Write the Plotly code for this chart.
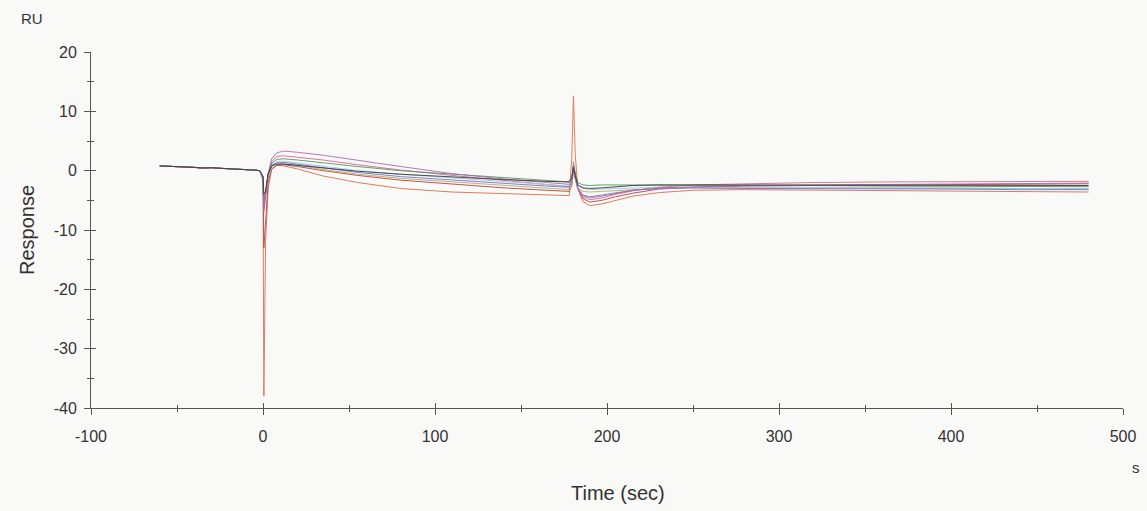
import plotly.graph_objects as go

# Pre-injection baseline shared by every cycle (s, RU)
baseline_t = [-60, -55, -50, -45, -40, -35, -30, -25, -20, -15, -10, -5, -2]
baseline_ru = [0.8, 0.75, 0.75, 0.65, 0.55, 0.45, 0.5, 0.4, 0.35, 0.3, 0.2, 0.1, 0.0]

# Sampling times from injection start onwards (s)
cycle_t = [0, 0.5, 1.5, 3, 5, 8, 12, 20, 35, 55, 80, 110, 140, 165, 178,
           179.5, 180.5, 181.5, 183, 186, 190, 197, 205, 215, 230, 250,
           280, 320, 360, 400, 440, 480]

# Response of each cycle (RU)
orange_ru = [-1.0, -38.0, -12.0, -3.0, 0.2, 0.9, 0.8, 0.3, -0.9, -2.0, -3.0, -3.6,
             -3.9, -4.1, -4.2, 2.0, 12.6, 3.0, -3.0, -5.2, -5.9, -5.6, -5.0, -4.3,
             -3.7, -3.3, -3.2, -3.3, -3.3, -3.4, -3.5, -3.6]
darkred_ru = [-1.0, -13.0, -8.0, -2.0, 0.3, 0.9, 1.0, 0.7, 0.0, -0.8, -1.6, -2.3,
              -2.9, -3.3, -3.5, -2.5, 1.0, -0.5, -3.0, -4.7, -5.3, -5.0, -4.4, -3.8,
              -3.1, -2.8, -2.6, -2.5, -2.4, -2.3, -2.3, -2.2]
purple_ru = [-1.5, -6.0, -4.0, -0.5, 2.0, 3.0, 3.3, 3.1, 2.6, 1.7, 0.7, -0.5,
             -1.4, -2.0, -2.3, -1.5, 0.5, -1.0, -3.0, -4.2, -4.6, -4.3, -3.8, -3.3,
             -2.9, -2.7, -2.5, -2.4, -2.3, -2.3, -2.2, -2.1]
pink_ru = [-1.5, -7.0, -4.5, -1.0, 1.5, 2.4, 2.5, 2.3, 1.8, 1.0, 0.1, -0.8,
           -1.6, -2.3, -2.7, -2.0, 1.5, -0.5, -3.0, -4.4, -4.9, -4.6, -4.0, -3.4,
           -2.8, -2.4, -2.2, -2.0, -1.9, -1.9, -1.8, -1.8]
green_ru = [-1.0, -5.0, -3.5, -0.5, 1.2, 1.9, 2.0, 1.8, 1.3, 0.7, 0.0, -0.6,
            -1.2, -1.7, -1.9, -1.2, 0.8, -0.5, -2.0, -2.4, -2.5, -2.4, -2.4, -2.4,
            -2.4, -2.5, -2.5, -2.5, -2.6, -2.6, -2.6, -2.7]
lightblue_ru = [-1.0, -5.0, -3.0, -0.5, 1.0, 1.5, 1.6, 1.3, 0.7, 0.0, -0.6, -1.2,
                -1.8, -2.3, -2.6, -1.8, 0.0, -1.0, -2.5, -3.0, -3.2, -3.1, -3.0, -2.9,
                -2.8, -2.8, -2.8, -2.9, -2.9, -2.9, -3.0, -3.0]
black_ru = [-1.0, -4.0, -3.5, -0.5, 0.8, 1.1, 1.1, 0.9, 0.5, -0.1, -0.6, -1.1,
            -1.5, -1.8, -1.9, -1.2, 0.5, -0.8, -2.4, -2.9, -3.0, -2.9, -2.7, -2.5,
            -2.4, -2.4, -2.4, -2.4, -2.5, -2.5, -2.5, -2.5]
olive_ru = [-1.0, -6.0, -4.0, -1.0, 0.7, 1.1, 1.2, 0.9, 0.2, -0.6, -1.3, -1.9,
            -2.5, -3.0, -3.2, -2.4, -0.5, -1.5, -3.0, -3.5, -3.6, -3.5, -3.4, -3.2,
            -3.0, -2.9, -2.9, -2.9, -3.0, -3.0, -3.0, -3.1]
blue_ru = [-1.0, -6.5, -4.0, -0.8, 0.9, 1.3, 1.4, 1.1, 0.5, -0.3, -1.0, -1.6,
           -2.2, -2.6, -2.8, -2.0, 0.2, -1.0, -3.0, -4.1, -4.4, -4.1, -3.7, -3.3,
           -3.0, -2.9, -3.0, -3.0, -3.1, -3.1, -3.2, -3.2]

series = [
    ("orange", orange_ru, "#d8704e"),
    ("darkred", darkred_ru, "#b04848"),
    ("pink", pink_ru, "#d86a88"),
    ("olive", olive_ru, "#c0ac62"),
    ("lightblue", lightblue_ru, "#9ccae0"),
    ("blue", blue_ru, "#7a74cc"),
    ("green", green_ru, "#4f9a6c"),
    ("purple", purple_ru, "#b06cb0"),
    ("black", black_ru, "#3a3a3a"),
]

x_ticks = [-100, 0, 100, 200, 300, 400, 500]
y_ticks = [-40, -30, -20, -10, 0, 10, 20]

fig = go.Figure()
for name, vals, color in series:
    fig.add_trace(go.Scatter(
        x=baseline_t + cycle_t,
        y=baseline_ru + vals,
        mode="lines",
        name=name,
        line=dict(color=color, width=1),
        opacity=0.9,
        hoverinfo="skip",
    ))

# empty trace so the overlaid tick axes are rendered
fig.add_trace(go.Scatter(x=[], y=[], xaxis="x2", yaxis="y2", showlegend=False))

axis_color = "#555555"
tick_font = dict(family="Liberation Sans, Arial, sans-serif", size=16, color="#333333")

fig.update_layout(
    width=1147, height=511,
    margin=dict(l=91, r=24, t=52, b=103),
    paper_bgcolor="#f9f9f8",
    plot_bgcolor="#f9f9f8",
    showlegend=False,
    xaxis=dict(
        range=[-100, 500], tickvals=x_ticks, ticktext=[str(v) for v in x_ticks],
        showgrid=False, zeroline=False, showline=True, linecolor=axis_color, linewidth=1,
        ticks="outside", ticklen=6, tickcolor=axis_color, tickfont=tick_font,
        ticklabelstandoff=8,
        minor=dict(dtick=50, tick0=0, ticks="outside", ticklen=3, tickcolor=axis_color),
    ),
    yaxis=dict(
        range=[-40, 20], tickvals=y_ticks, ticktext=[str(v) for v in y_ticks],
        showgrid=False, zeroline=False, showline=True, linecolor=axis_color, linewidth=1,
        ticks="outside", ticklen=6, tickcolor=axis_color, tickfont=tick_font,
        ticklabelstandoff=4,
        minor=dict(dtick=5, tick0=0, ticks="outside", ticklen=3, tickcolor=axis_color),
    ),
    xaxis2=dict(
        range=[-100, 500], overlaying="x", anchor="y2", tickvals=x_ticks,
        showticklabels=False, showgrid=False, zeroline=False, showline=False,
        ticks="inside", ticklen=5, tickcolor=axis_color,
        minor=dict(dtick=50, tick0=0, ticks="inside", ticklen=3, tickcolor=axis_color),
    ),
    yaxis2=dict(
        range=[-40, 20], overlaying="y", anchor="x2", tickvals=y_ticks,
        showticklabels=False, showgrid=False, zeroline=False, showline=False,
        ticks="inside", ticklen=5, tickcolor=axis_color,
        minor=dict(dtick=5, tick0=0, ticks="inside", ticklen=3, tickcolor=axis_color),
    ),
)

label_font = dict(family="Liberation Sans, Arial, sans-serif", size=20, color="#333333")
unit_font = dict(family="Liberation Sans, Arial, sans-serif", size=15, color="#333333")

fig.add_annotation(text="Time (sec)", xref="paper", yref="paper", x=0.511, y=-0.239,
                   xanchor="center", yanchor="middle", showarrow=False, font=label_font)
fig.add_annotation(text="Response", xref="paper", yref="paper", x=-0.062, y=0.5,
                   xanchor="center", yanchor="middle", textangle=-90, showarrow=False,
                   font=label_font)
fig.add_annotation(text="RU", xref="paper", yref="paper", x=-0.057, y=1.0955,
                   xanchor="center", yanchor="middle", showarrow=False, font=unit_font)
fig.add_annotation(text="s", xref="paper", yref="paper", x=1.0126, y=-0.166,
                   xanchor="center", yanchor="middle", showarrow=False, font=unit_font)

fig.write_html("out.html")
